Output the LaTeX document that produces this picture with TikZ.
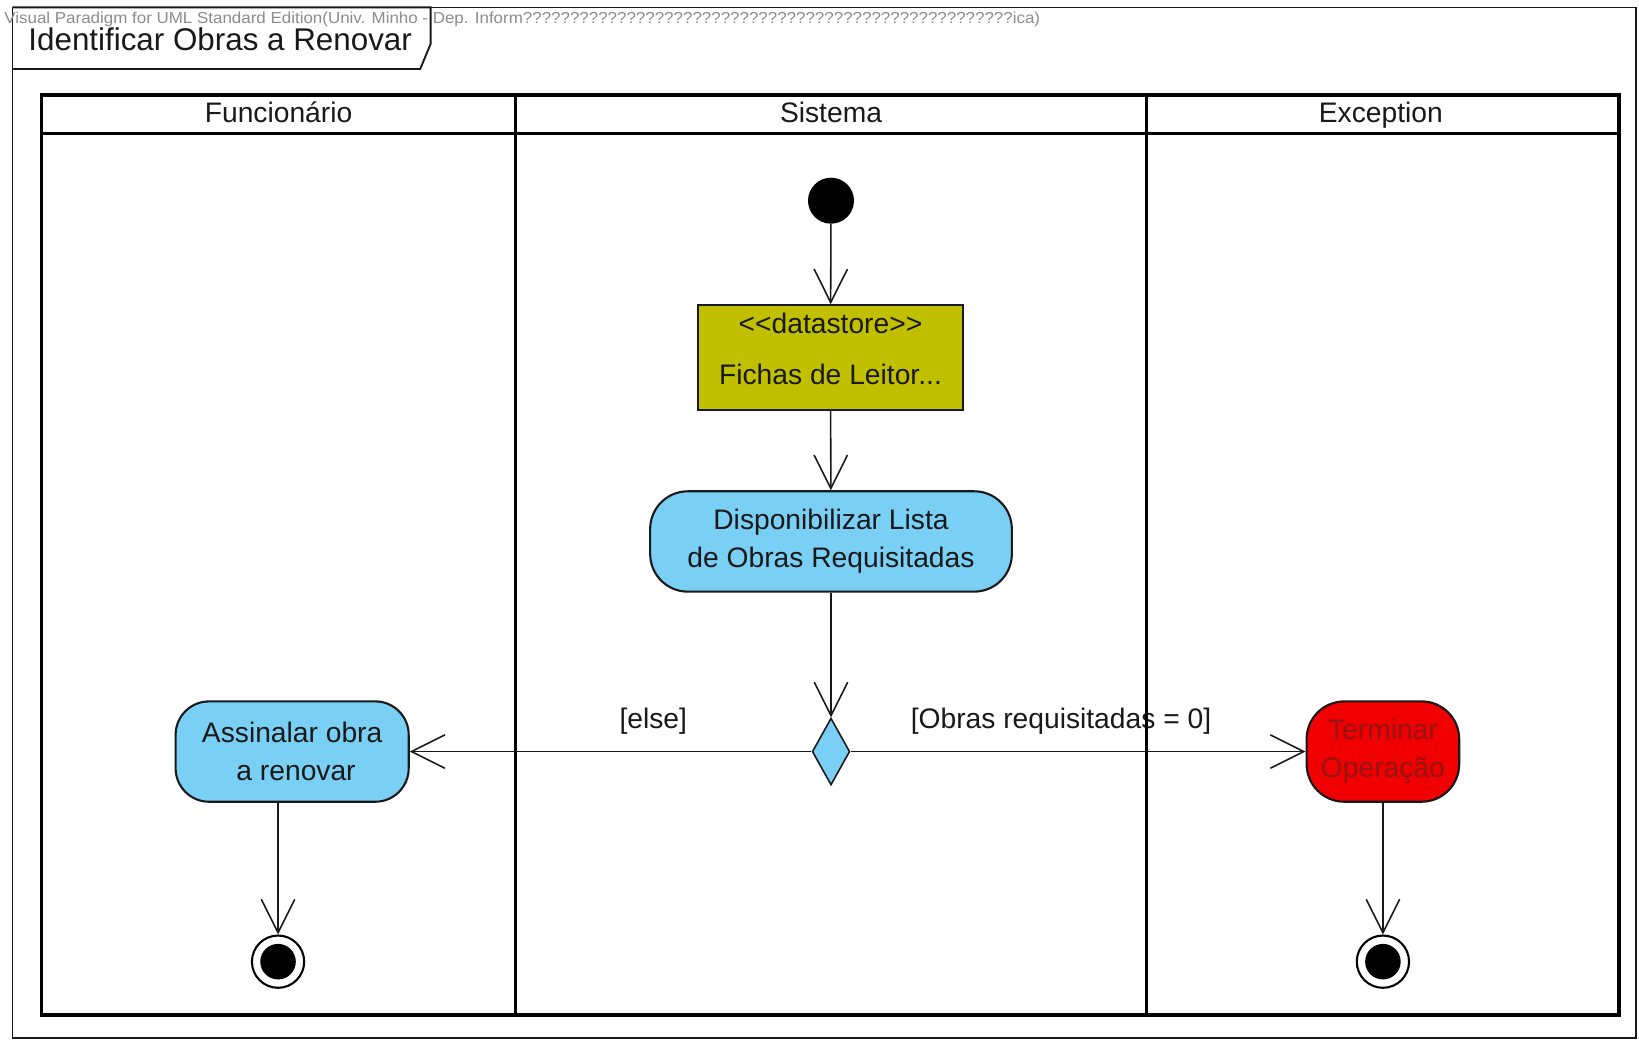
\documentclass[tikz,border=0pt]{standalone}
\usepackage{fontspec}
\setmainfont{Liberation Sans}
\usepackage{graphicx}
\usetikzlibrary{arrows.meta,shapes.geometric}
\definecolor{actblue}{RGB}{122,207,245}
\definecolor{dsolive}{RGB}{192,192,0}
\definecolor{termred}{RGB}{240,0,0}
\definecolor{termtext}{RGB}{150,20,20}
\definecolor{edge}{RGB}{25,25,25}
\definecolor{wmgray}{RGB}{140,140,140}
\begin{document}
\begin{tikzpicture}[x=1pt,y=-1pt,
  lbl/.style={font=\fontsize{27}{36}\selectfont, text=edge},
  headlbl/.style={lbl, anchor=base, inner sep=0pt},
  action/.style={draw=edge, line width=2pt, rounded corners=32pt, fill=actblue,
    align=center, inner sep=0pt, lbl},
  flow/.style={draw=edge, line width=1.5pt,
    -{Straight Barb[length=32pt,width=32pt,line width=1.5pt]}},
  lane/.style={line width=3.2pt, draw=black},
  finalnode/.style={circle, draw=black, line width=2pt, fill=white,
    minimum size=50pt, inner sep=0pt,
    path picture={\fill[black] (path picture bounding box.center) circle (17pt);}},
]
% page
\fill[white] (0,0) rectangle (1568,996);
\useasboundingbox (0,0) rectangle (1568,996);

% diagram frame and name tab
\draw[edge, line width=1.5pt] (12,7) rectangle (1565,993);
\node[anchor=west, inner sep=0pt, text=wmgray] (wm) at (4,19)
  {\resizebox{991pt}{11pt}{Visual Paradigm for UML Standard Edition(Univ. Minho - Dep. Inform????????????????????????????????????????????????????ica)}};
\draw[edge, line width=1.8pt] (12,7) -- (412,7) -- (412,42) -- (402,66) -- (12,66);
\node[anchor=west, inner sep=0pt, font=\fontsize{30}{36}\selectfont, text=edge] (title) at (27,38) {Identificar Obras a Renovar};

% guard labels
\node[headlbl] (elselbl) at (625,697) {[else]};
\node[headlbl] (zerolbl) at (1015,697) {[Obras requisitadas = 0]};

% swimlanes
\draw[lane] (40,91) rectangle (1549,971);
\draw[lane] (40,128) -- (1549,128);
\draw[lane] (493,91) -- (493,971);
\draw[lane] (1097,91) -- (1097,971);
\node[headlbl] (lane1) at (266.5,117) {Funcionário};
\node[headlbl] (lane2) at (795,117) {Sistema};
\node[headlbl] (lane3) at (1321,117) {Exception};

% activity nodes
\node[circle, fill=black, minimum size=44pt, inner sep=0pt] (init) at (795,192) {};
\node[draw=edge, line width=2pt, fill=dsolive, minimum width=253pt, minimum height=100pt,
  inner sep=0pt,
  label={[lbl, align=center, yshift=8.5pt]center:{<{}<datastore>{}>\\[13pt]Fichas de Leitor...}}]
  (ds) at (794.5,342) {};
\node[action, minimum width=346pt, minimum height=96pt, rounded corners=36pt] (disp) at (795,518)
  {Disponibilizar Lista\\de Obras Requisitadas};
\node[diamond, draw=edge, line width=1.5pt, fill=actblue, inner sep=0pt,
  minimum width=36pt, minimum height=64pt, aspect=0.56] (dec) at (795,719) {};
\node[action, minimum width=223pt, minimum height=96pt] (mark) at (279.5,719)
  {Assinalar obra\\\ a renovar};
\node[action, fill=termred, text=termtext, minimum width=146pt, minimum height=96pt,
  rounded corners=36pt] (term) at (1323,719) {Terminar\\Operação};
\node[finalnode] (end1) at (266,920) {};
\node[finalnode] (end2) at (1323,920) {};

% control flows
\draw[flow] (init) -- (ds);
\draw[flow] (ds) -- (disp);
\draw[flow] (disp) -- (dec);
\draw[flow] (dec) -- (mark);
\draw[flow] (dec) -- (term);
\draw[flow] (mark.south -| end1) -- (end1);
\draw[flow] (term) -- (end2);
\end{tikzpicture}
\end{document}
